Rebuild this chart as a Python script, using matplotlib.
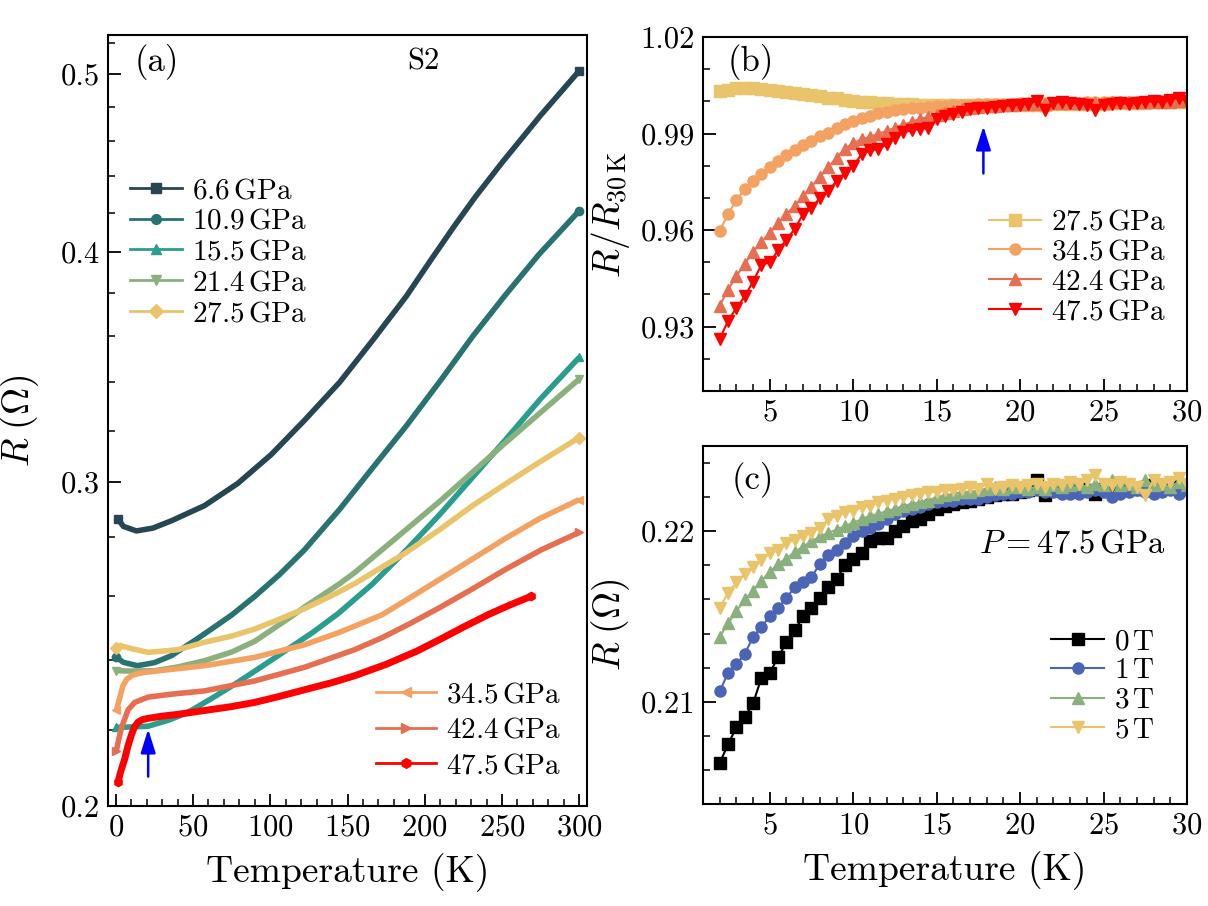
import numpy as np
import matplotlib
matplotlib.use("Agg")
import matplotlib.pyplot as plt
from matplotlib.lines import Line2D
from matplotlib.ticker import FixedLocator, FixedFormatter, MultipleLocator, NullFormatter, FormatStrFormatter

plt.rcParams["font.family"] = "cmr10"
plt.rcParams["mathtext.fontset"] = "cm"
plt.rcParams["axes.formatter.use_mathtext"] = True
plt.rcParams["axes.unicode_minus"] = False

# ---------------- panel (a): R(T) at several pressures ----------------
pressures = ["6.6", "10.9", "15.5", "21.4", "27.5", "34.5", "42.4", "47.5"]
colors = ["#264653", "#287271", "#2a9d8f", "#8ab17d", "#e9c46a", "#f4a261", "#e76f51", "#ff0000"]
markers = ["s", "o", "^", "v", "D", "<", ">", "h"]

T_66 = [1.5, 5, 13.4, 24, 36, 57.5, 79, 100.6, 122, 145, 166, 188, 204, 219, 233, 250, 275, 300]
R_66 = [0.2864, 0.2838, 0.2822, 0.2832, 0.2858, 0.2913, 0.2995, 0.3105, 0.3240, 0.3400, 0.3580,
        0.3785, 0.3962, 0.4132, 0.4290, 0.4475, 0.4748, 0.502]
T_109 = [0.4, 5, 14, 25, 36, 51, 62, 75, 90, 106, 122, 145, 166, 188, 210, 231, 252, 274, 300]
R_109 = [0.2409, 0.2394, 0.2384, 0.2393, 0.2414, 0.2460, 0.2496, 0.2540, 0.2600, 0.2672, 0.2755,
         0.2900, 0.3052, 0.3218, 0.3405, 0.3600, 0.3790, 0.3990, 0.4213]
T_155 = [0.4, 10, 21, 35, 46.8, 62, 79, 95, 111.4, 128, 144, 166, 188, 209.6, 235, 252.5, 275, 300]
R_155 = [0.2207, 0.2208, 0.2210, 0.2228, 0.2249, 0.2288, 0.2335, 0.2383, 0.2434, 0.2487, 0.2545,
         0.2640, 0.2755, 0.2880, 0.3045, 0.3165, 0.3330, 0.3507]
T_214 = [0.4, 10, 25, 40, 57.5, 75, 90, 113.6, 122, 145, 155, 188, 210, 231, 252, 274, 300]
R_214 = [0.2369, 0.2368, 0.2369, 0.2380, 0.2399, 0.2425, 0.2458, 0.2535, 0.2565, 0.2642, 0.2680,
         0.2827, 0.2930, 0.3038, 0.3150, 0.3268, 0.3413]
T_275 = [0.4, 3, 8, 21, 40, 57.5, 75, 90, 105, 122, 140, 155, 188, 210, 231, 252, 274, 300]
R_275 = [0.2437, 0.2445, 0.2438, 0.2424, 0.2432, 0.2455, 0.2474, 0.2496, 0.2525, 0.2560, 0.2603,
         0.2643, 0.2747, 0.2828, 0.2913, 0.2992, 0.3075, 0.3172]
T_345 = [0.4, 2, 4.7, 7, 10, 14, 18.7, 30, 57.5, 90, 122, 145, 172, 188, 210, 231, 252, 274, 300]
R_345 = [0.2254, 0.2280, 0.2325, 0.2343, 0.2354, 0.2360, 0.2364, 0.2370, 0.2384, 0.2409, 0.2447,
         0.2486, 0.2540, 0.2588, 0.2657, 0.2725, 0.2795, 0.2865, 0.2935]
T_424 = [0.4, 2, 4, 5.8, 8, 12.3, 21, 35, 57.5, 90, 122, 154.5, 172.8, 190, 209.4, 230, 252.5, 275, 300]
R_424 = [0.2143, 0.2175, 0.2210, 0.2230, 0.2256, 0.2277, 0.2292, 0.2300, 0.2310, 0.2339, 0.2379,
         0.2432, 0.2470, 0.2512, 0.2563, 0.2622, 0.2690, 0.2755, 0.2817]
T_475 = [1.5, 3, 5.8, 8, 10, 12, 14.4, 17, 21, 30, 40, 57.5, 75, 90, 105, 122, 140, 154.5, 175,
         195, 211.6, 225, 241.8, 255, 268.7]
R_475 = [0.2060, 0.2085, 0.2121, 0.2157, 0.2184, 0.2207, 0.2221, 0.2228, 0.2232, 0.2238, 0.2243,
         0.2254, 0.2265, 0.2277, 0.2293, 0.2313, 0.2334, 0.2354, 0.2388, 0.2428, 0.2468, 0.2502,
         0.2543, 0.2572, 0.2600]

T_all = [T_66, T_109, T_155, T_214, T_275, T_345, T_424, T_475]
R_all = [R_66, R_109, R_155, R_214, R_275, R_345, R_424, R_475]

# ---------------- panel (b): R / R(30 K) near Tc ----------------
T_b = [2.0, 2.5, 3.0, 3.5, 4.0, 4.5, 5.0, 5.5, 6.0, 6.5, 7.0, 7.5, 8.0, 8.5, 9.0, 9.5, 10.0, 10.5,
       11.0, 11.5, 12.0, 12.5, 13.0, 13.5, 14.0, 14.5, 15.0, 15.5, 16.0, 16.5, 17.0, 17.5, 18.0,
       18.5, 19.0, 19.5, 20.0, 20.5, 21.0, 21.5, 22.0, 22.5, 23.0, 23.5, 24.0, 24.5, 25.0, 25.5,
       26.0, 26.5, 27.0, 27.5, 28.0, 28.5, 29.0, 29.5, 30.0]
n_275 = [1.0031, 1.0036, 1.0042, 1.0043, 1.0041, 1.0037, 1.0034, 1.0031, 1.0028, 1.0025, 1.0022,
         1.0019, 1.0016, 1.0012, 1.0009, 1.0005, 1.0002, 0.9999, 0.9997, 0.9995, 0.9994, 0.9993,
         0.9992, 0.9991, 0.9990, 0.9989, 0.9989, 0.9988, 0.9988, 0.9988, 0.9988, 0.9988, 0.9988,
         0.9989, 0.9989, 0.9989, 0.9989, 0.9990, 0.9990, 0.9990, 0.9991, 0.9991, 0.9991, 0.9992,
         0.9992, 0.9993, 0.9993, 0.9994, 0.9994, 0.9995, 0.9995, 0.9996, 0.9997, 0.9997, 0.9998,
         0.9999, 1.0000]
n_345 = [0.9598, 0.9650, 0.9693, 0.9727, 0.9752, 0.9775, 0.9795, 0.9815, 0.9833, 0.9850, 0.9864,
         0.9878, 0.9891, 0.9903, 0.9917, 0.9930, 0.9940, 0.9948, 0.9956, 0.9963, 0.9968, 0.9972,
         0.9975, 0.9978, 0.9980, 0.9983, 0.9985, 0.9987, 0.9988, 0.9989, 0.9990, 0.9991, 0.9992,
         0.9992, 0.9993, 0.9993, 0.9994, 0.9994, 0.9995, 0.9995, 0.9995, 0.9996, 0.9996, 0.9996,
         0.9997, 0.9997, 0.9997, 0.9998, 0.9998, 0.9998, 0.9999, 0.9999, 0.9999, 1.0000, 1.0000,
         1.0000, 1.0000]
n_424 = [0.9365, 0.9415, 0.9457, 0.9495, 0.9532, 0.9563, 0.9592, 0.9622, 0.9650, 0.9676, 0.9705,
         0.9735, 0.9765, 0.9795, 0.9825, 0.9852, 0.9870, 0.9882, 0.9890, 0.9899, 0.9908, 0.9918,
         0.9928, 0.9936, 0.9945, 0.9952, 0.9958, 0.9964, 0.9970, 0.9975, 0.9979, 0.9982, 0.9985,
         0.9987, 0.9989, 0.9990, 0.9991, 0.9992, 0.9993, 0.9993, 0.9994, 0.9994, 0.9995, 0.9995,
         0.9996, 0.9996, 0.9996, 0.9997, 0.9997, 0.9998, 0.9998, 0.9998, 0.9999, 0.9999, 0.9999,
         1.0000, 1.0000]
n_475 = [0.9262, 0.9318, 0.9358, 0.9394, 0.9440, 0.9492, 0.9500, 0.9537, 0.9570, 0.9604, 0.9650,
         0.9668, 0.9700, 0.9722, 0.9752, 0.9778, 0.9800, 0.9835, 0.9848, 0.9852, 0.9866, 0.9885,
         0.9905, 0.9910, 0.9915, 0.9917, 0.9945, 0.9955, 0.9962, 0.9968, 0.9975, 0.9978, 0.9980,
         0.9981, 0.9985, 0.9988, 0.9990, 0.9992, 1.0002, 0.9972, 0.9996, 0.9998, 0.9995, 0.9993,
         0.9990, 0.9972, 0.9990, 0.9993, 0.9995, 0.9992, 0.9996, 0.9998, 1.0000, 0.9998, 1.0004,
         1.0012, 1.0000]
labels_b = ["27.5", "34.5", "42.4", "47.5"]
norm_b = [n_275, n_345, n_424, n_475]
colors_b = ["#e9c46a", "#f4a261", "#e76f51", "#ff0000"]
markers_b = ["s", "o", "^", "v"]

# ---------------- panel (c): R(T) in field at 47.5 GPa ----------------
T_c = T_b
R_0T = [0.2064, 0.2075, 0.2085, 0.2091, 0.2099, 0.2114, 0.2117, 0.2126, 0.2135, 0.2142, 0.2150,
        0.2155, 0.2161, 0.2167, 0.2172, 0.2180, 0.2184, 0.2187, 0.2194, 0.2196, 0.2196, 0.2200,
        0.2203, 0.2206, 0.2207, 0.2210, 0.2213, 0.2215, 0.2216, 0.2217, 0.2218, 0.2219, 0.2220,
        0.2221, 0.2222, 0.2222, 0.2223, 0.2224, 0.2230, 0.2221, 0.2224, 0.2225, 0.2224, 0.2225,
        0.2224, 0.2222, 0.2225, 0.2226, 0.2225, 0.2226, 0.2225, 0.2226, 0.2227, 0.2226, 0.2227,
        0.2227, 0.2226]
R_1T = [0.2106, 0.2117, 0.2122, 0.2128, 0.2138, 0.2144, 0.2150, 0.2155, 0.2161, 0.2167, 0.2170,
        0.2173, 0.2181, 0.2186, 0.2189, 0.2193, 0.2197, 0.2200, 0.2202, 0.2204, 0.2207, 0.2210,
        0.2212, 0.2213, 0.2214, 0.2216, 0.2217, 0.2218, 0.2218, 0.2219, 0.2219, 0.2219, 0.2220,
        0.2221, 0.2222, 0.2222, 0.2223, 0.2223, 0.2224, 0.2223, 0.2223, 0.2222, 0.2222, 0.2222,
        0.2223, 0.2224, 0.2223, 0.2220, 0.2222, 0.2223, 0.2224, 0.2223, 0.2222, 0.2223, 0.2224,
        0.2222, 0.2224]
R_3T = [0.2138, 0.2146, 0.2153, 0.2160, 0.2165, 0.2171, 0.2176, 0.2181, 0.2184, 0.2188, 0.2191,
        0.2194, 0.2197, 0.2199, 0.2201, 0.2203, 0.2205, 0.2207, 0.2209, 0.2210, 0.2212, 0.2213,
        0.2215, 0.2216, 0.2217, 0.2218, 0.2220, 0.2221, 0.2222, 0.2223, 0.2223, 0.2224, 0.2225,
        0.2226, 0.2225, 0.2226, 0.2226, 0.2225, 0.2226, 0.2225, 0.2227, 0.2226, 0.2227, 0.2228,
        0.2226, 0.2228, 0.2227, 0.2230, 0.2227, 0.2228, 0.2226, 0.2230, 0.2227, 0.2228, 0.2226,
        0.2229, 0.2227]
R_5T = [0.2155, 0.2164, 0.2170, 0.2175, 0.2179, 0.2183, 0.2187, 0.2189, 0.2193, 0.2195, 0.2197,
        0.2199, 0.2202, 0.2207, 0.2209, 0.2211, 0.2212, 0.2214, 0.2215, 0.2217, 0.2218, 0.2219,
        0.2220, 0.2221, 0.2222, 0.2223, 0.2223, 0.2224, 0.2224, 0.2225, 0.2226, 0.2225, 0.2228,
        0.2225, 0.2226, 0.2227, 0.2226, 0.2227, 0.2228, 0.2226, 0.2228, 0.2227, 0.2229, 0.2228,
        0.2230, 0.2233, 0.2228, 0.2227, 0.2229, 0.2228, 0.2226, 0.2221, 0.2230, 0.2228, 0.2229,
        0.2231, 0.2228]
fields = ["0", "1", "3", "5"]
R_c = [R_0T, R_1T, R_3T, R_5T]
colors_c = ["#000000", "#4a65b5", "#8ab17d", "#e9c46a"]
markers_c = ["s", "o", "^", "v"]

FS_TICK = 22
FS_LAB = 27
FS_LEG = 21


def style_axis(ax):
    for s in ax.spines.values():
        s.set_linewidth(1.5)
    ax.tick_params(which="both", direction="in", top=False, right=False, labelsize=FS_TICK)
    ax.tick_params(which="major", length=9, width=1.3, pad=6)
    ax.tick_params(which="minor", length=5, width=1.1)


fig = plt.figure(figsize=(12.08, 9.06), dpi=100)
W, H = 1208, 906
ax_a = fig.add_axes([108 / W, (H - 806) / H, 479 / W, 771 / H])
ax_b = fig.add_axes([703 / W, (H - 391) / H, 484 / W, 354 / H])
ax_c = fig.add_axes([703 / W, (H - 804) / H, 484 / W, 358 / H])

# ---- (a)
for T, R, c, m in zip(T_all, R_all, colors, markers):
    lw = 5.0 if c == "#ff0000" else 4.0
    ax_a.plot(T, R, color=c, lw=lw, marker=m, ms=6, markevery=[0, len(T) - 1],
              solid_capstyle="butt", solid_joinstyle="round")
ax_a.set_yscale("log")
ax_a.set_xlim(-5, 305)
ax_a.set_ylim(0.2, 0.525)
ax_a.yaxis.set_major_locator(FixedLocator([0.2, 0.3, 0.4, 0.5]))
ax_a.yaxis.set_major_formatter(FixedFormatter(["0.2", "0.3", "0.4", "0.5"]))
ax_a.yaxis.set_minor_locator(FixedLocator([0.22, 0.24, 0.26, 0.28, 0.32, 0.34, 0.36, 0.38,
                                           0.42, 0.44, 0.46, 0.48, 0.52]))
ax_a.yaxis.set_minor_formatter(NullFormatter())
ax_a.xaxis.set_major_locator(MultipleLocator(50))
ax_a.xaxis.set_minor_locator(MultipleLocator(10))
style_axis(ax_a)
ax_a.set_xlabel("Temperature (K)", fontsize=FS_LAB, labelpad=8)
ax_a.set_ylabel(r"$R\;(\Omega)$", fontsize=FS_LAB, labelpad=14)
ax_a.text(0.056, 0.965, "(a)", transform=ax_a.transAxes, fontsize=25, va="center", ha="left")
ax_a.text(0.658, 0.965, "S2", transform=ax_a.transAxes, fontsize=22, va="center", ha="center")

h1 = [Line2D([], [], color=c, lw=2, marker=m, ms=7) for c, m in zip(colors[:5], markers[:5])]
leg1 = ax_a.legend(h1, [r"$\mathrm{%s\,GPa}$" % p for p in pressures[:5]], loc="upper left",
                   bbox_to_anchor=(0.045, 0.815), frameon=False, fontsize=FS_LEG,
                   handlelength=1.8, handletextpad=0.35, labelspacing=0.15, borderpad=0,
                   borderaxespad=0)
ax_a.add_artist(leg1)
h2 = [Line2D([], [], color=c, lw=2, marker=m, ms=7) for c, m in zip(colors[5:], markers[5:])]
ax_a.legend(h2, [r"$\mathrm{%s\,GPa}$" % p for p in pressures[5:]], loc="lower left",
            bbox_to_anchor=(0.56, 0.035), frameon=False, fontsize=FS_LEG,
            handlelength=2.05, handletextpad=0.35, labelspacing=0.3, borderpad=0,
            borderaxespad=0)
ax_a.annotate("", xy=(21, 0.2202), xytext=(21, 0.2075),
              arrowprops=dict(arrowstyle="-|>,head_width=0.25,head_length=0.8", color="blue",
                              lw=1.8, mutation_scale=18, shrinkA=0, shrinkB=0))

# ---- (b)
for lab, y, c, m in zip(labels_b, norm_b, colors_b, markers_b):
    ax_b.plot(T_b, y, color=c, lw=1.5, marker=m, ms=8, label=r"$\mathrm{%s\,GPa}$" % lab)
ax_b.set_xlim(1.0, 30.0)
ax_b.set_ylim(0.91, 1.02)
ax_b.yaxis.set_major_locator(FixedLocator([0.93, 0.96, 0.99, 1.02]))
ax_b.yaxis.set_major_formatter(FormatStrFormatter("%.2f"))
ax_b.yaxis.set_minor_locator(MultipleLocator(0.01))
ax_b.xaxis.set_major_locator(MultipleLocator(5))
ax_b.xaxis.set_minor_locator(MultipleLocator(1))
style_axis(ax_b)
ax_b.set_ylabel(r"$R/R_{30\,\mathrm{K}}$", fontsize=FS_LAB, labelpad=6)
ax_b.text(0.05, 0.93, "(b)", transform=ax_b.transAxes, fontsize=25, va="center", ha="left")
ax_b.legend(loc="lower left", bbox_to_anchor=(0.59, 0.185), frameon=False, fontsize=FS_LEG,
            handlelength=1.8, handletextpad=0.35, labelspacing=0.12, borderpad=0,
            borderaxespad=0)
ax_b.annotate("", xy=(17.8, 0.9923), xytext=(17.8, 0.9776),
              arrowprops=dict(arrowstyle="-|>,head_width=0.25,head_length=0.8", color="blue",
                              lw=1.8, mutation_scale=18, shrinkA=0, shrinkB=0))

# ---- (c)
for f, y, c, m in zip(fields, R_c, colors_c, markers_c):
    ax_c.plot(T_c, y, color=c, lw=1.5, marker=m, ms=8, label=r"$\mathrm{%s\,T}$" % f)
ax_c.set_xlim(1.0, 30.0)
ax_c.set_ylim(0.204, 0.225)
ax_c.yaxis.set_major_locator(FixedLocator([0.21, 0.22]))
ax_c.yaxis.set_major_formatter(FormatStrFormatter("%.2f"))
ax_c.yaxis.set_minor_locator(MultipleLocator(0.002))
ax_c.xaxis.set_major_locator(MultipleLocator(5))
ax_c.xaxis.set_minor_locator(MultipleLocator(1))
style_axis(ax_c)
ax_c.set_xlabel("Temperature (K)", fontsize=FS_LAB, labelpad=8)
ax_c.set_ylabel(r"$R\;(\Omega)$", fontsize=FS_LAB, labelpad=6)
ax_c.text(0.06, 0.905, "(c)", transform=ax_c.transAxes, fontsize=25, va="center", ha="left")
ax_c.text(0.955, 0.726, r"$P = 47.5\,\mathrm{GPa}$", transform=ax_c.transAxes, fontsize=23.5,
          va="center", ha="right")
ax_c.legend(loc="lower left", bbox_to_anchor=(0.72, 0.17), frameon=False, fontsize=FS_LEG,
            handlelength=1.8, handletextpad=0.35, labelspacing=0.1, borderpad=0,
            borderaxespad=0)

fig.savefig("out.png", dpi=100)
